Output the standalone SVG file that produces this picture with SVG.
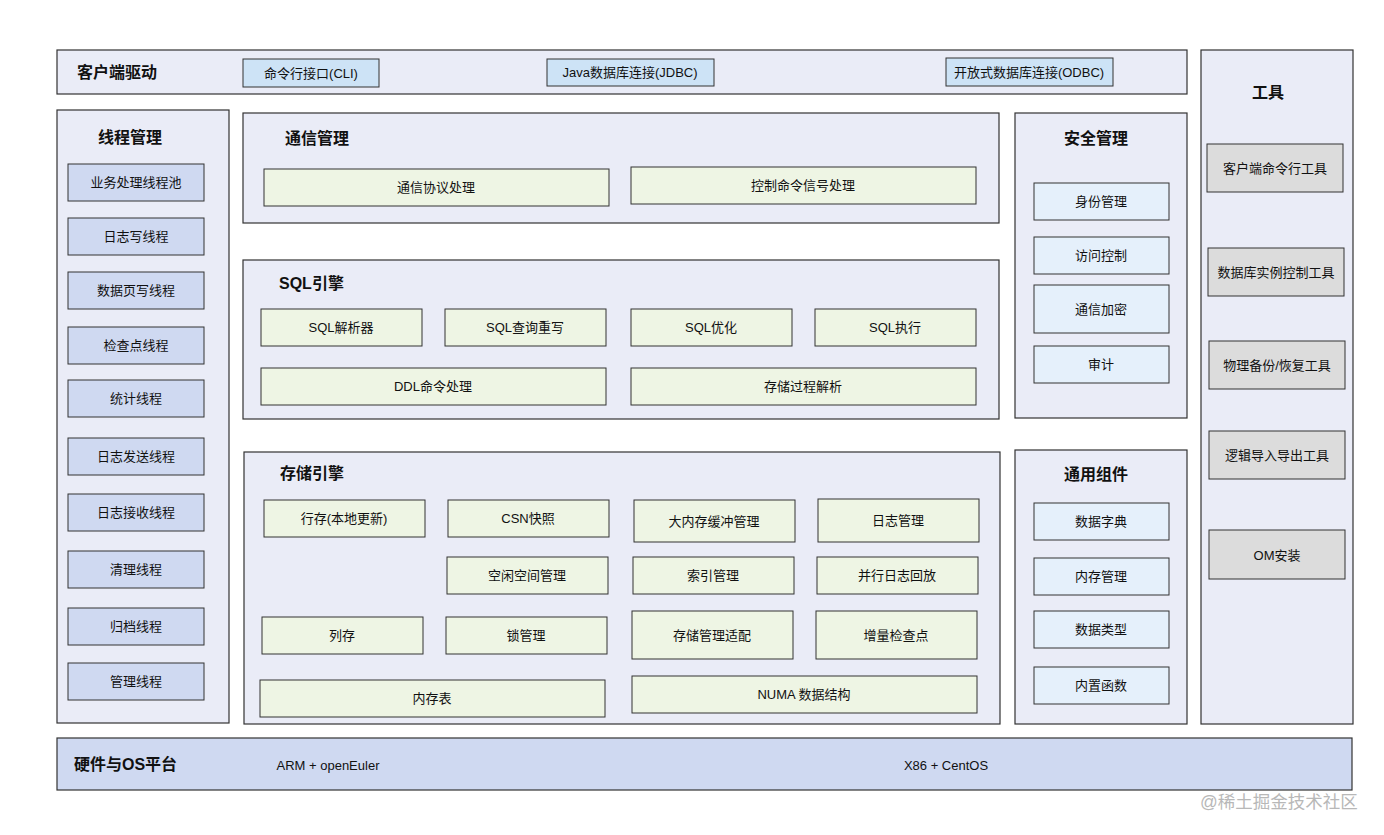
<svg xmlns="http://www.w3.org/2000/svg" width="1384" height="835" viewBox="0 0 1384 835">
<style>
text{font-family:"Liberation Sans","Noto Sans CJK SC",sans-serif;fill:#111;}
.t{font-size:13px;text-anchor:middle;dominant-baseline:central;}
.h{font-size:16px;font-weight:bold;dominant-baseline:central;}
.hc{text-anchor:middle;}
.c{fill:#eaecf7;stroke:#333;stroke-width:1.2;}
.g{fill:#eef5e4;stroke:#333;stroke-width:1;}
.b{fill:#e5f0fb;stroke:#333;stroke-width:1;}
.tb{fill:#cfd9f1;stroke:#333;stroke-width:1;}
.gr{fill:#dcdcdc;stroke:#333;stroke-width:1;}
.cb{fill:#cde3f6;stroke:#333;stroke-width:1;}
.hw{fill:#cfd9f1;stroke:#333;stroke-width:1.2;}
</style>
<rect width="1384" height="835" fill="#fff"/>
<g id="connectors"></g>

<g id="client-driver">
<rect class="c" x="57" y="50" width="1130" height="44"/>
<text class="h" x="77" y="72">客户端驱动</text>
<g id="cli"><rect class="cb" x="243" y="59" width="136" height="28"/><text class="t" x="311" y="73">命令行接口(CLI)</text></g>
<g id="jdbc"><rect class="cb" x="547" y="59" width="167" height="27"/><text class="t" x="630" y="72.5">Java数据库连接(JDBC)</text></g>
<g id="odbc"><rect class="cb" x="946" y="58" width="167" height="28"/><text class="t" x="1029" y="72">开放式数据库连接(ODBC)</text></g>
</g>

<g id="tools">
<rect class="c" x="1201" y="50" width="152" height="674"/>
<text class="h hc" x="1268" y="92">工具</text>
<g id="tool1"><rect class="gr" x="1207" y="144" width="136" height="48"/><text class="t" x="1275" y="168">客户端命令行工具</text></g>
<g id="tool2"><rect class="gr" x="1208" y="248" width="136" height="48"/><text class="t" x="1276" y="272">数据库实例控制工具</text></g>
<g id="tool3"><rect class="gr" x="1209" y="341" width="136" height="48"/><text class="t" x="1277" y="365">物理备份/恢复工具</text></g>
<g id="tool4"><rect class="gr" x="1209" y="431" width="136" height="48"/><text class="t" x="1277" y="455">逻辑导入导出工具</text></g>
<g id="tool5"><rect class="gr" x="1209" y="530" width="136" height="49"/><text class="t" x="1277" y="555">OM安装</text></g>
</g>

<g id="thread-mgmt">
<rect class="c" x="57" y="110" width="172" height="613"/>
<text class="h hc" x="130" y="137">线程管理</text>
<g id="th1"><rect class="tb" x="68" y="164" width="136" height="37"/><text class="t" x="136" y="182.5">业务处理线程池</text></g>
<g id="th2"><rect class="tb" x="68" y="218" width="136" height="37"/><text class="t" x="136" y="236.5">日志写线程</text></g>
<g id="th3"><rect class="tb" x="68" y="272" width="136" height="37"/><text class="t" x="136" y="290.5">数据页写线程</text></g>
<g id="th4"><rect class="tb" x="68" y="327" width="136" height="37"/><text class="t" x="136" y="345.5">检查点线程</text></g>
<g id="th5"><rect class="tb" x="68" y="380" width="136" height="37"/><text class="t" x="136" y="398.5">统计线程</text></g>
<g id="th6"><rect class="tb" x="68" y="438" width="136" height="37"/><text class="t" x="136" y="456.5">日志发送线程</text></g>
<g id="th7"><rect class="tb" x="68" y="494" width="136" height="37"/><text class="t" x="136" y="512.5">日志接收线程</text></g>
<g id="th8"><rect class="tb" x="68" y="551" width="136" height="37"/><text class="t" x="136" y="569.5">清理线程</text></g>
<g id="th9"><rect class="tb" x="68" y="608" width="136" height="37"/><text class="t" x="136" y="626.5">归档线程</text></g>
<g id="th10"><rect class="tb" x="68" y="663" width="136" height="37"/><text class="t" x="136" y="681.5">管理线程</text></g>
</g>

<g id="comm-mgmt">
<rect class="c" x="243" y="113" width="756" height="110"/>
<text class="h" x="285" y="138">通信管理</text>
<g id="cm1"><rect class="g" x="264" y="169" width="345" height="37"/><text class="t" x="436" y="187.5">通信协议处理</text></g>
<g id="cm2"><rect class="g" x="631" y="167" width="345" height="37"/><text class="t" x="803" y="185.5">控制命令信号处理</text></g>
</g>

<g id="sql-engine">
<rect class="c" x="243" y="260" width="756" height="159"/>
<text class="h" x="279" y="283">SQL引擎</text>
<g id="sq1"><rect class="g" x="261" y="309" width="161" height="37"/><text class="t" x="341" y="327.5">SQL解析器</text></g>
<g id="sq2"><rect class="g" x="445" y="309" width="161" height="37"/><text class="t" x="525" y="327.5">SQL查询重写</text></g>
<g id="sq3"><rect class="g" x="631" y="309" width="161" height="37"/><text class="t" x="711" y="327.5">SQL优化</text></g>
<g id="sq4"><rect class="g" x="815" y="309" width="161" height="37"/><text class="t" x="895" y="327.5">SQL执行</text></g>
<g id="sq5"><rect class="g" x="261" y="368" width="345" height="37"/><text class="t" x="433" y="386.5">DDL命令处理</text></g>
<g id="sq6"><rect class="g" x="631" y="368" width="345" height="37"/><text class="t" x="803" y="386.5">存储过程解析</text></g>
</g>

<g id="storage-engine">
<rect class="c" x="244" y="452" width="756" height="272"/>
<text class="h" x="280" y="473">存储引擎</text>
<g id="st1"><rect class="g" x="264" y="500" width="161" height="37"/><text class="t" x="344" y="518.5">行存(本地更新)</text></g>
<g id="st2"><rect class="g" x="448" y="500" width="161" height="37"/><text class="t" x="528" y="518.5">CSN快照</text></g>
<g id="st3"><rect class="g" x="634" y="500" width="161" height="42"/><text class="t" x="714" y="521">大内存缓冲管理</text></g>
<g id="st4"><rect class="g" x="818" y="499" width="161" height="43"/><text class="t" x="898" y="520.5">日志管理</text></g>
<g id="st5"><rect class="g" x="447" y="557" width="161" height="37"/><text class="t" x="527" y="575.5">空闲空间管理</text></g>
<g id="st6"><rect class="g" x="633" y="557" width="161" height="37"/><text class="t" x="713" y="575.5">索引管理</text></g>
<g id="st7"><rect class="g" x="817" y="557" width="161" height="37"/><text class="t" x="897" y="575.5">并行日志回放</text></g>
<g id="st8"><rect class="g" x="262" y="617" width="161" height="37"/><text class="t" x="342" y="635.5">列存</text></g>
<g id="st9"><rect class="g" x="446" y="617" width="161" height="37"/><text class="t" x="526" y="635.5">锁管理</text></g>
<g id="st10"><rect class="g" x="632" y="611" width="161" height="48"/><text class="t" x="712" y="635">存储管理适配</text></g>
<g id="st11"><rect class="g" x="816" y="611" width="161" height="48"/><text class="t" x="896" y="635">增量检查点</text></g>
<g id="st12"><rect class="g" x="260" y="680" width="345" height="37"/><text class="t" x="432" y="698.5">内存表</text></g>
<g id="st13"><rect class="g" x="632" y="676" width="345" height="37"/><text class="t" x="804" y="694.5">NUMA 数据结构</text></g>
</g>

<g id="security-mgmt">
<rect class="c" x="1015" y="113" width="172" height="305"/>
<text class="h hc" x="1096" y="138">安全管理</text>
<g id="se1"><rect class="b" x="1034" y="183" width="135" height="37"/><text class="t" x="1101" y="201.5">身份管理</text></g>
<g id="se2"><rect class="b" x="1034" y="237" width="135" height="37"/><text class="t" x="1101" y="255.5">访问控制</text></g>
<g id="se3"><rect class="b" x="1034" y="285" width="135" height="48"/><text class="t" x="1101" y="309">通信加密</text></g>
<g id="se4"><rect class="b" x="1034" y="346" width="135" height="37"/><text class="t" x="1101" y="364.5">审计</text></g>
</g>

<g id="common-components">
<rect class="c" x="1015" y="450" width="172" height="274"/>
<text class="h hc" x="1096" y="474">通用组件</text>
<g id="co1"><rect class="b" x="1034" y="503" width="135" height="37"/><text class="t" x="1101" y="521.5">数据字典</text></g>
<g id="co2"><rect class="b" x="1034" y="558" width="135" height="37"/><text class="t" x="1101" y="576.5">内存管理</text></g>
<g id="co3"><rect class="b" x="1034" y="611" width="135" height="37"/><text class="t" x="1101" y="629.5">数据类型</text></g>
<g id="co4"><rect class="b" x="1034" y="667" width="135" height="37"/><text class="t" x="1101" y="685.5">内置函数</text></g>
</g>

<g id="hardware-os">
<rect class="hw" x="57" y="738" width="1295" height="52"/>
<text class="h" x="74" y="764">硬件与OS平台</text>
<text class="t" x="328" y="765">ARM + openEuler</text>
<text class="t" x="946" y="765">X86 + CentOS</text>
</g>

<text x="1200" y="808" style="font-size:17.5px;fill:#b8b8b8;">@稀土掘金技术社区</text>
</svg>
